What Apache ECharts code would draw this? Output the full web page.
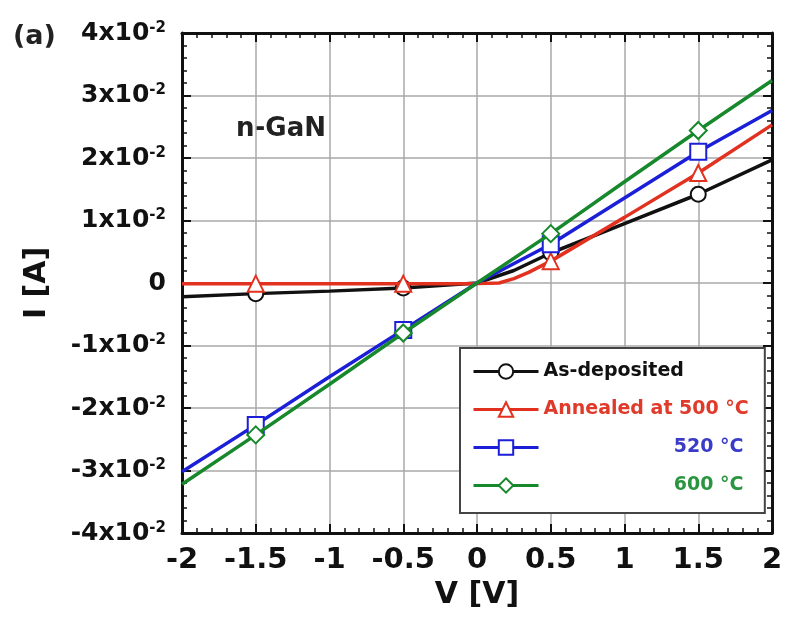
<!DOCTYPE html>
<html>
<head>
<meta charset="utf-8">
<script src="https://cdn.jsdelivr.net/npm/echarts@6/dist/echarts.min.js"></script>
<style>
  html, body { margin: 0; padding: 0; background: #fff; }
  #chart { width: 787px; height: 620px; }
</style>
</head>
<body>
<div id="chart"></div>
<script>
// V [V] and I [A]
const vAsDep = [-2, -1.5, -1, -0.5, 0, 0.25, 0.5, 1, 1.5, 2]
const iAsDep = [-0.0022, -0.0017, -0.0013, -0.0008, 0, 0.0020, 0.0048, 0.0095, 0.0142, 0.0197]

const v500 = [-2, -1.5, -1, -0.5, 0, 0.15, 0.25, 0.35, 0.5, 1, 1.5, 2]
const i500 = [-0.0001, -0.0001, -0.0001, -0.0001, -0.0001, 0, 0.0007, 0.0017, 0.0035, 0.0105, 0.0176, 0.0253]

const v520 = [-2, -1.5, -1, -0.5, 0, 0.5, 1, 1.5, 2]
const i520 = [-0.0302, -0.0227, -0.0150, -0.0075, 0, 0.0062, 0.0136, 0.0210, 0.0276]

const v600 = [-2, -1.5, -1, -0.5, 0, 0.5, 1, 1.5, 2]
const i600 = [-0.0322, -0.0243, -0.0162, -0.0080, 0, 0.0079, 0.0162, 0.0244, 0.0324]

// points carrying an open marker
const markerV = [-1.5, -0.5, 0.5, 1.5]

const seriesNames = ['As-deposited', 'Annealed at 500 °C', '520 °C', '600 °C']
const lineColors = ['#111111', '#e2311f', '#1c1fd8', '#17882c']
const textColors = ['#111111', '#e03a2a', '#3a3cc8', '#2a9440']
const symbols = ['circle', 'triangle', 'rect', 'diamond']
const symbolSizes = [15, 16, 16, 17]

const FONT = 'DejaVu Sans'

const toData = (vs, is) => vs.map((v, k) => {
  const item = { value: [v, is[k]] }
  if (!markerV.includes(v)) item.symbol = 'none'
  return item
})

const allV = [vAsDep, v500, v520, v600]
const allI = [iAsDep, i500, i520, i600]

const series = seriesNames.map((name, k) => ({
  name: name,
  type: 'line',
  data: toData(allV[k], allI[k]),
  symbol: symbols[k],
  symbolSize: symbolSizes[k],
  showAllSymbol: true,
  lineStyle: { color: lineColors[k], width: 3.5 },
  itemStyle: { color: '#ffffff', borderColor: lineColors[k], borderWidth: 2 },
  emphasis: { disabled: true },
  z: 3 + k
}))

const chart = echarts.init(document.getElementById('chart'))

const tickInside = { inside: true, length: 9, lineStyle: { color: '#111', width: 2 } }
const minorInside = { show: true, length: 5, lineStyle: { color: '#111', width: 1.5 } }

chart.setOption({
  animation: false,
  backgroundColor: '#ffffff',
  grid: { left: 182, right: 15, top: 33, bottom: 87 },
  graphic: [
    { type: 'text', left: 13, top: 23, style: { text: '(a)', font: 'bold 27px "DejaVu Sans"', fill: '#222' } },
    { type: 'text', left: 236, top: 116, style: { text: 'n-GaN', font: 'bold 26px "DejaVu Sans"', fill: '#222' } }
  ],
  legend: {
    orient: 'vertical',
    left: 460,
    top: 348,
    padding: [14, 16, 18, 12],
    borderColor: '#444',
    borderWidth: 2,
    backgroundColor: '#ffffff',
    itemWidth: 65,
    itemHeight: 18,
    itemGap: 19,
    selectedMode: false,
    lineStyle: { width: 3 },
    data: seriesNames.map((name, k) => ({ name: name, textStyle: { color: textColors[k] } })),
    formatter: (name) => {
      const k = seriesNames.indexOf(name)
      return (k < 2 ? '{l|' : '{r|') + name + '}'
    },
    textStyle: {
      fontFamily: FONT,
      fontWeight: 'bold',
      fontSize: 19,
      rich: {
        l: { width: 200, align: 'left', lineHeight: 22, fontFamily: FONT, fontWeight: 'bold', fontSize: 19 },
        r: { width: 200, align: 'right', lineHeight: 22, fontFamily: FONT, fontWeight: 'bold', fontSize: 19 }
      }
    }
  },
  xAxis: [
    {
      type: 'value',
      min: -2,
      max: 2,
      interval: 0.5,
      name: 'V [V]',
      nameLocation: 'middle',
      nameGap: 46,
      nameTextStyle: { fontFamily: FONT, fontWeight: 'bold', fontSize: 30, color: '#111' },
      axisLine: { onZero: false, lineStyle: { color: '#111', width: 3 } },
      axisTick: tickInside,
      minorTick: Object.assign({ splitNumber: 5 }, minorInside),
      splitLine: { show: true, lineStyle: { color: '#a8a8a8', width: 1.5 } },
      axisLabel: {
        margin: 13,
        fontFamily: FONT, fontWeight: 'bold', fontSize: 29, color: '#111',
        formatter: (v) => String(v)
      }
    },
    {
      type: 'value',
      position: 'top',
      min: -2,
      max: 2,
      interval: 0.5,
      axisLine: { onZero: false, lineStyle: { color: '#111', width: 3 } },
      axisTick: tickInside,
      minorTick: Object.assign({ splitNumber: 5 }, minorInside),
      splitLine: { show: false },
      axisLabel: { show: false }
    }
  ],
  yAxis: [
    {
      type: 'value',
      min: -0.04,
      max: 0.04,
      interval: 0.01,
      name: 'I [A]',
      nameLocation: 'middle',
      nameRotate: 90,
      nameGap: 130,
      nameTextStyle: { fontFamily: FONT, fontWeight: 'bold', fontSize: 30, color: '#111' },
      axisLine: { onZero: false, lineStyle: { color: '#111', width: 3 } },
      axisTick: tickInside,
      minorTick: Object.assign({ splitNumber: 5 }, minorInside),
      splitLine: { show: true, lineStyle: { color: '#a8a8a8', width: 1.5 } },
      axisLabel: {
        margin: 16,
        color: '#111',
        formatter: (v) => {
          const n = Math.round(v * 100)
          if (n === 0) return '{m|0}'
          return '{m|' + n + 'x10}{s|-2}'
        },
        rich: {
          m: { fontFamily: FONT, fontWeight: 'bold', fontSize: 25, color: '#111' },
          s: { fontFamily: FONT, fontWeight: 'bold', fontSize: 15, color: '#111', verticalAlign: 'top' }
        }
      }
    },
    {
      type: 'value',
      position: 'right',
      min: -0.04,
      max: 0.04,
      interval: 0.01,
      axisLine: { onZero: false, lineStyle: { color: '#111', width: 3 } },
      axisTick: tickInside,
      minorTick: Object.assign({ splitNumber: 5 }, minorInside),
      splitLine: { show: false },
      axisLabel: { show: false }
    }
  ],
  series: series
})
</script>
</body>
</html>
